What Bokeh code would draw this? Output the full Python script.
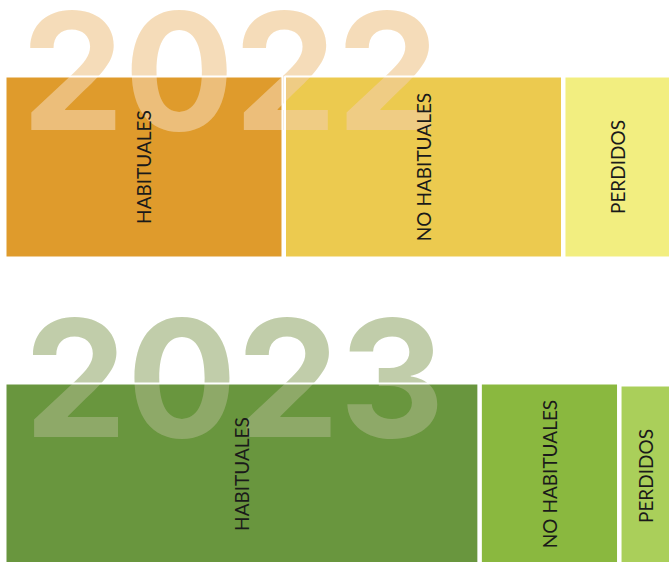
import numpy as np
from bokeh.plotting import figure
from bokeh.models import Range1d, ColumnDataSource
from bokeh.core.properties import value
from bokeh.embed import file_html
from bokeh.resources import INLINE

# ---- data -------------------------------------------------------------
categories = ["HABITUALES", "NO HABITUALES", "PERDIDOS"]
years = ["2022", "2023"]
share_2022 = [42.0, 42.0, 16.0]   # % of customers
share_2023 = [71.7, 20.8, 7.5]
colors_2022 = ["#DF9B2C", "#ECCA4F", "#F2EE80"]
colors_2023 = ["#69963E", "#8AB83F", "#AACF5A"]
year_colors = ["#F1CD9B", "#A1B37E"]
year_alpha = [0.70, 0.66]

# ---- layout -----------------------------------------------------------
W, H = 669, 562
PX = 6.595           # pixels per percentage point
GAP = 2.5 / PX       # gap between blocks (plus white outline)
X0 = -5.0 / PX       # data value at left figure edge
row_top = [76, 383]
row_h = 181
top_offset = [[0, 0, 0], [0, 0, 2]]
year_x_px = [230, 234]
year_base_px = [70, 377]

p = figure(width=W, height=H, output_backend="svg", toolbar_location=None,
           x_range=Range1d(X0, X0 + W / PX), y_range=Range1d(H, 0),
           min_border=0)
p.axis.visible = False
p.grid.visible = False
p.outline_line_color = None
p.background_fill_color = "white"
p.border_fill_color = "white"

rows = [(share_2022, colors_2022), (share_2023, colors_2023)]
outline_src = []
for r, (shares, cols) in enumerate(rows):
    s = np.array(shares)
    left = np.concatenate([[0], np.cumsum(s)[:-1]]) + np.arange(len(s)) * GAP
    right = left + s
    top = np.array([row_top[r] + o for o in top_offset[r]], dtype=float)
    bottom = top + row_h
    src = ColumnDataSource(dict(left=left, right=right, top=top, bottom=bottom,
                                color=cols, label=categories,
                                xc=(left + right) / 2, yc=(top + bottom) / 2))
    p.quad(left="left", right="right", top="top", bottom="bottom",
           fill_color="color", line_color=None, source=src)
    outline_src.append(src)

# big translucent year labels
for r, yr in enumerate(years):
    p.text(x=[X0 + year_x_px[r] / PX], y=[year_base_px[r]], text=[yr],
           text_align="center", text_baseline="alphabetic",
           text_font=value("Inter"), text_font_style="bold",
           text_font_size="163px", text_color=year_colors[r],
           text_alpha=year_alpha[r])

# white outlines on top + category labels
for src in outline_src:
    p.quad(left="left", right="right", top="top", bottom="bottom",
           fill_color=None, line_color="white", line_width=2, source=src)
    p.text(x="xc", y="yc", text="label", angle=np.pi / 2,
           text_align="center", text_baseline="middle",
           text_font=value("Lato"), text_font_size="19px",
           text_color="#1a1a1a", source=src)

open("out.html", "w").write(file_html(p, INLINE))
